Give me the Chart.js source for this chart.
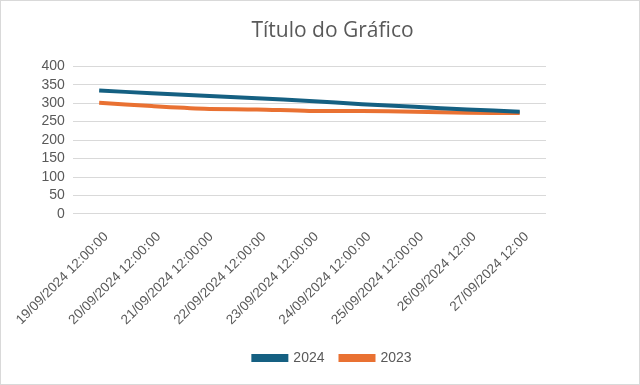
<!DOCTYPE html>
<html>
<head>
  <script src="https://cdn.jsdelivr.net/npm/chart.js"></script>
  <style>
    body { margin: 0; background: #fff; }
    #wrap { width: 638px; height: 383px; border: 1px solid #d9d9d9; }
  </style>
</head>
<body>
  <div id="wrap">
    <canvas id="lineChart" width="638" height="383"></canvas>
  </div>
  <script>
    const labels = [
      '19/09/2024 12:00:00', '20/09/2024 12:00:00', '21/09/2024 12:00:00',
      '22/09/2024 12:00:00', '23/09/2024 12:00:00', '24/09/2024 12:00:00',
      '25/09/2024 12:00:00', '26/09/2024 12:00', '27/09/2024 12:00'
    ];
    const values2024 = [334, 327, 320, 313, 306, 297, 290, 283, 277];
    const values2023 = [301, 292, 285, 283, 279, 279, 277, 274, 273];
    const yTicks = [0, 50, 100, 150, 200, 250, 300, 350, 400];

    const ctx = document.getElementById('lineChart').getContext('2d');
    const myChart = new Chart(ctx, {
      type: 'line',
      data: {
        labels: labels,
        datasets: [{
          label: '2024',
          data: values2024,
          borderColor: '#156082',
          backgroundColor: '#156082',
          borderWidth: 4,
          pointRadius: 0,
          tension: 0.3
        }, {
          label: '2023',
          data: values2023,
          borderColor: '#E97132',
          backgroundColor: '#E97132',
          borderWidth: 4,
          pointRadius: 0,
          tension: 0.3
        }]
      },
      options: {
        responsive: false,
        animation: false,
        layout: { padding: { left: 25, right: 0, top: 6, bottom: 9 } },
        plugins: {
          title: {
            display: true,
            text: 'Título do Gráfico',
            color: '#595959',
            font: { family: 'Open Sans', size: 21, weight: 'normal' },
            padding: { top: 11, bottom: 23 }
          },
          legend: {
            position: 'bottom',
            labels: {
              color: '#595959',
              font: { family: 'Liberation Sans', size: 14 },
              boxWidth: 33,
              boxHeight: 4,
              padding: 16
            }
          },
          tooltip: { enabled: false }
        },
        scales: {
          x: {
            offset: true,
            grid: { display: false },
            border: { display: false },
            ticks: {
              color: '#595959',
              font: { family: 'Liberation Sans', size: 13.5 },
              minRotation: 45,
              maxRotation: 45,
              autoSkip: false,
              labelOffset: 7,
              padding: 7
            }
          },
          y: {
            min: 0,
            max: 400,
            afterBuildTicks: axis => { axis.ticks = yTicks.map(v => ({ value: v })); },
            grid: { color: '#d9d9d9', lineWidth: 1, drawTicks: false },
            border: { display: false },
            ticks: {
              color: '#595959',
              font: { family: 'Liberation Sans', size: 14 },
              autoSkip: false,
              padding: 8
            }
          },
          spacer: {
            position: 'right',
            display: true,
            grid: { display: false },
            border: { display: false },
            ticks: { display: false },
            afterFit: axis => { axis.width = 93; }
          }
        }
      }
    });
  </script>
</body>
</html>
